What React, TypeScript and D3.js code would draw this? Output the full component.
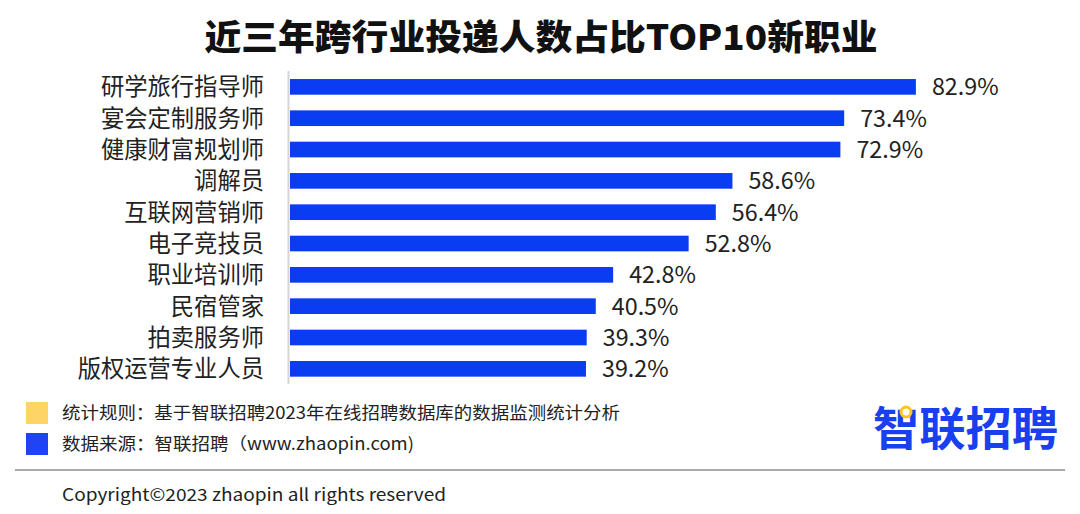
import React from "react";
import * as d3 from "d3";

const categories = [
  "研学旅行指导师",
  "宴会定制服务师",
  "健康财富规划师",
  "调解员",
  "互联网营销师",
  "电子竞技员",
  "职业培训师",
  "民宿管家",
  "拍卖服务师",
  "版权运营专业人员",
];
const values = [82.9, 73.4, 72.9, 58.6, 56.4, 52.8, 42.8, 40.5, 39.3, 39.2];

const title = "近三年跨行业投递人数占比TOP10新职业";
const legendItems = [
  { label: "统计规则：基于智联招聘2023年在线招聘数据库的数据监测统计分析", color: "#ffd466" },
  { label: "数据来源：智联招聘（www.zhaopin.com)", color: "#1f44f5" },
];
const copyright = "Copyright©2023 zhaopin all rights reserved";
const logo = "智联招聘";

const W = 1080;
const H = 514;
const FONT = "'Noto Sans CJK SC', 'Noto Sans', sans-serif";

export default function App() {
  const x = d3.scaleLinear().domain([0, 100]).range([290, 1045]);
  const y = d3
    .scaleBand<string>()
    .domain(categories)
    .range([71.2, 384.5])
    .paddingInner(0.5)
    .paddingOuter(0.25);

  return (
    <svg
      width={W}
      height={H}
      style={{ position: "absolute", left: 0, top: 0, background: "#fff" }}
      fontFamily={FONT}
    >
      <rect x={0} y={0} width={W} height={H} fill="#fff" />
      <text
        x={541}
        y={50}
        textAnchor="middle"
        fontSize={35}
        fontWeight={900}
        fill="#111"
        textLength={673}
        lengthAdjust="spacingAndGlyphs"
      >
        {title}
      </text>

      {categories.map((c, i) => {
        const yy = y(c)!;
        const bh = y.bandwidth();
        return (
          <g key={c}>
            <rect x={x(0)} y={yy} width={x(values[i]) - x(0)} height={bh} fill="#0a3cf2" />
            <text
              x={264}
              y={yy + bh / 2}
              dy="0.36em"
              textAnchor="end"
              fontSize={23.3}
              fill="#222"
            >
              {c}
            </text>
            <text x={x(values[i]) + 16} y={yy + bh / 2} dy="0.36em" fontSize={23.3} fill="#222">
              {values[i].toFixed(1)}%
            </text>
          </g>
        );
      })}

      <line x1={288.5} x2={288.5} y1={71} y2={384} stroke="#d6d6d6" strokeWidth={2} />

      {legendItems.map((l, i) => (
        <g key={l.label}>
          <rect x={26} y={402 + i * 31} width={22} height={22} fill={l.color} />
          <text
            x={62}
            y={413 + i * 31}
            dy="0.36em"
            fontSize={17}
            fill="#222"
            textLength={i === 0 ? 558 : 352}
            lengthAdjust="spacingAndGlyphs"
          >
            {l.label}
          </text>
        </g>
      ))}

      <text
        x={873}
        y={428}
        dy="0.36em"
        fontSize={46}
        fontWeight={600}
        fill="#1a3ff0"
        textLength={185}
        lengthAdjust="spacingAndGlyphs"
      >
        {logo}
      </text>
      <circle cx={906} cy={412} r={5} fill="#fff" stroke="#ffc61a" strokeWidth={3} />

      <line x1={15} x2={1065} y1={470} y2={470} stroke="#a9a9a9" strokeWidth={2} />
      <text
        x={62}
        y={495}
        dy="0.36em"
        fontSize={17}
        fill="#222"
        textLength={384}
        lengthAdjust="spacingAndGlyphs"
      >
        {copyright}
      </text>
    </svg>
  );
}
